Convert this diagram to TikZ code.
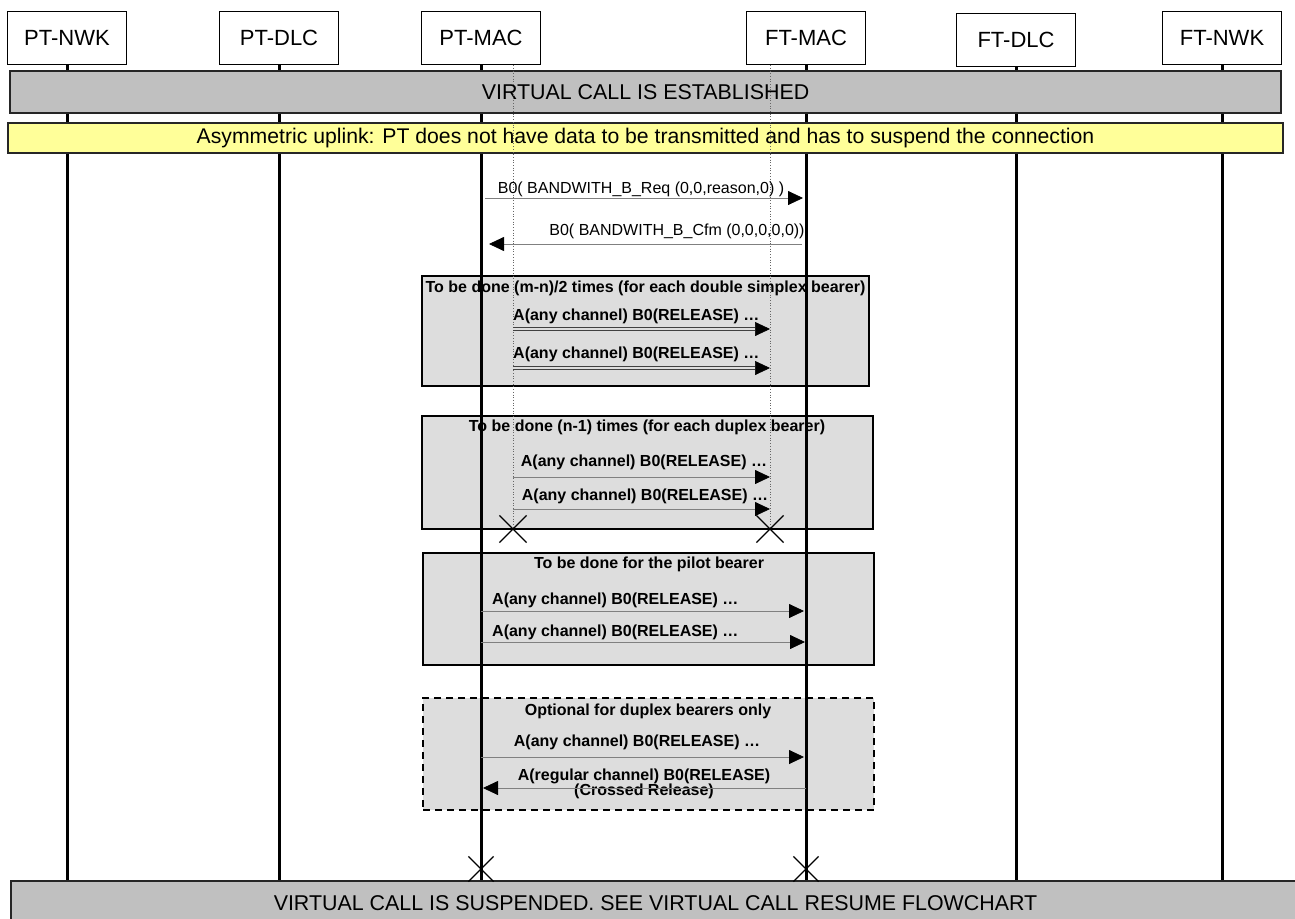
\documentclass[tikz,border=0pt]{standalone}
\usepackage{fontspec}
\setmainfont{Liberation Sans}
\usepackage{tikz}
\usetikzlibrary{arrows.meta,shapes.misc}
\definecolor{bandgray}{HTML}{C0C0C0}
\definecolor{notey}{HTML}{FFFF99}
\definecolor{grpgray}{HTML}{DDDDDD}

\begin{document}
\begin{tikzpicture}[x=1pt,y=-1pt,
  hdr/.style={draw,line width=1.2pt,fill=white,minimum width=119pt,minimum height=53pt,inner sep=0pt,font=\fontsize{22}{24}\selectfont},
  lifeline/.style={line width=3pt},
  band/.style={draw=black!85,line width=1.2pt,fill=bandgray,inner sep=0pt,font=\fontsize{21.4}{24}\selectfont},
  note/.style={draw=black!85,line width=1.2pt,fill=notey,inner sep=0pt,font=\fontsize{21.2}{23}\selectfont},
  grp/.style={draw,line width=1.5pt,fill=grpgray,inner sep=0pt},
  gtitle/.style={font=\bfseries\fontsize{16}{18}\selectfont,inner sep=0pt},
  lbl/.style={font=\fontsize{16}{18}\selectfont,inner sep=0pt},
  blbl/.style={font=\bfseries\fontsize{16}{18}\selectfont,inner sep=0pt,align=center},
  dotl/.style={draw=black!60,dotted,line width=0.7pt},
  tip/.style={-{Triangle[length=15pt,width=14pt,color=black]}},
  msg/.style={draw=black!50,line width=0.8pt,tip},
  rel/.style={draw=black!75,line width=0.7pt,double=grpgray,double distance=2pt,tip},
  xmark/.style={cross out,draw,line width=1.2pt,inner sep=0pt,minimum size=#1}
]
\useasboundingbox (0,0) rectangle (1295,918);

\node[hdr] (ptnwk) at (67,38) {PT-NWK};
\node[hdr] (ptdlc) at (279,38) {PT-DLC};
\node[hdr] (ptmac) at (481,38) {PT-MAC};
\node[hdr] (ftmac) at (806,38) {FT-MAC};
\node[hdr] (ftdlc) at (1016,40) {FT-DLC};
\node[hdr] (ftnwk) at (1222,38) {FT-NWK};

\node[grp] (g1) at (645.5,331) [minimum width=447pt,minimum height=110pt] {};
\node[grp] (g2) at (647.5,472.5) [minimum width=451pt,minimum height=113pt] {};
\node[grp] (g3) at (648.5,609) [minimum width=451pt,minimum height=112pt] {};
\node[grp,dashed,dash pattern=on 7pt off 5pt] (g4) at (648.5,754) [minimum width=451pt,minimum height=112pt] {};

\coordinate (bot) at (0,881);
\foreach \n in {ptnwk,ptdlc,ptmac,ftmac,ftdlc,ftnwk}
  \draw[lifeline] (\n.south) -- (\n |- bot);

\node[band] (est) at (645.5,92) [minimum width=1271pt,minimum height=42pt] {VIRTUAL CALL IS ESTABLISHED};
\node[note] (asym) at (645.5,138) [minimum width=1275pt,minimum height=30pt] {Asymmetric uplink: PT does not have data to be transmitted and has to suspend the connection};
\node[band] (susp) at (655.5,903) [minimum width=1289pt,minimum height=44pt] {VIRTUAL CALL IS SUSPENDED. SEE VIRTUAL CALL RESUME FLOWCHART};

\coordinate (pdx) at (513,529);
\coordinate (fdx) at (770,529);
\draw[dotl] (pdx |- ptmac.south) -- (pdx);
\draw[dotl] (fdx |- ftmac.south) -- (fdx);

\coordinate (m1) at (0,198);
\coordinate (m2) at (0,244);
\node[lbl] (m1l) at (641,189) {B0( BANDWITH\_B\_Req (0,0,reason,0) )};
\draw[msg,shorten <=4pt,shorten >=3pt] (ptmac |- m1) -- (ftmac |- m1);
\node[lbl] (m2l) at (677,231) {B0( BANDWITH\_B\_Cfm (0,0,0,0,0))};
\draw[msg,shorten <=4pt,shorten >=8pt] (ftmac |- m2) -- (ptmac |- m2);

\node[gtitle] (g1t) at (645.5,288) {To be done (m-n)/2 times (for each double simplex bearer)};
\coordinate (r1) at (0,329);
\coordinate (r2) at (0,368);
\node[blbl,anchor=west] (r1l) at (513,316) {A(any channel) B0(RELEASE) …};
\draw[rel] (pdx |- r1) -- (fdx |- r1);
\node[blbl,anchor=west] (r2l) at (513,354) {A(any channel) B0(RELEASE) …};
\draw[rel] (pdx |- r2) -- (fdx |- r2);

\node[gtitle] (g2t) at (647,427) {To be done (n-1) times (for each duplex bearer)};
\coordinate (r3) at (0,477);
\coordinate (r4) at (0,509);
\node[blbl] (r3l) at (644,462) {A(any channel) B0(RELEASE) …};
\draw[msg] (pdx |- r3) -- (fdx |- r3);
\node[blbl] (r4l) at (645,496) {A(any channel) B0(RELEASE) …};
\draw[msg] (pdx |- r4) -- (fdx |- r4);
\node[xmark=26pt] (xp1) at (pdx) {};
\node[xmark=26pt] (xf1) at (fdx) {};

\node[gtitle] (g3t) at (649,564) {To be done for the pilot bearer};
\coordinate (r5) at (0,611);
\coordinate (r6) at (0,642);
\node[blbl,anchor=west] (r5l) at (492,600) {A(any channel) B0(RELEASE) …};
\draw[msg,shorten >=2pt] (ptmac |- r5) -- (ftmac |- r5);
\node[blbl,anchor=west] (r6l) at (492,632) {A(any channel) B0(RELEASE) …};
\draw[msg,shorten >=1pt] (ptmac |- r6) -- (ftmac |- r6);

\node[gtitle] (g4t) at (648,711) {Optional for duplex bearers only};
\coordinate (r7) at (0,757);
\coordinate (r8) at (0,788);
\node[blbl] (r7l) at (637,742) {A(any channel) B0(RELEASE) …};
\draw[msg,shorten >=2pt] (ptmac |- r7) -- (ftmac |- r7);
\node[blbl] (r8l) at (644,784) {A(regular channel) B0(RELEASE)\\[-3pt](Crossed Release)};
\draw[msg,shorten >=2pt] (ftmac |- r8) -- (ptmac |- r8);

\node[xmark=24pt] (xp2) at (481,869) {};
\node[xmark=24pt] (xf2) at (806,869) {};
\end{tikzpicture}
\end{document}
